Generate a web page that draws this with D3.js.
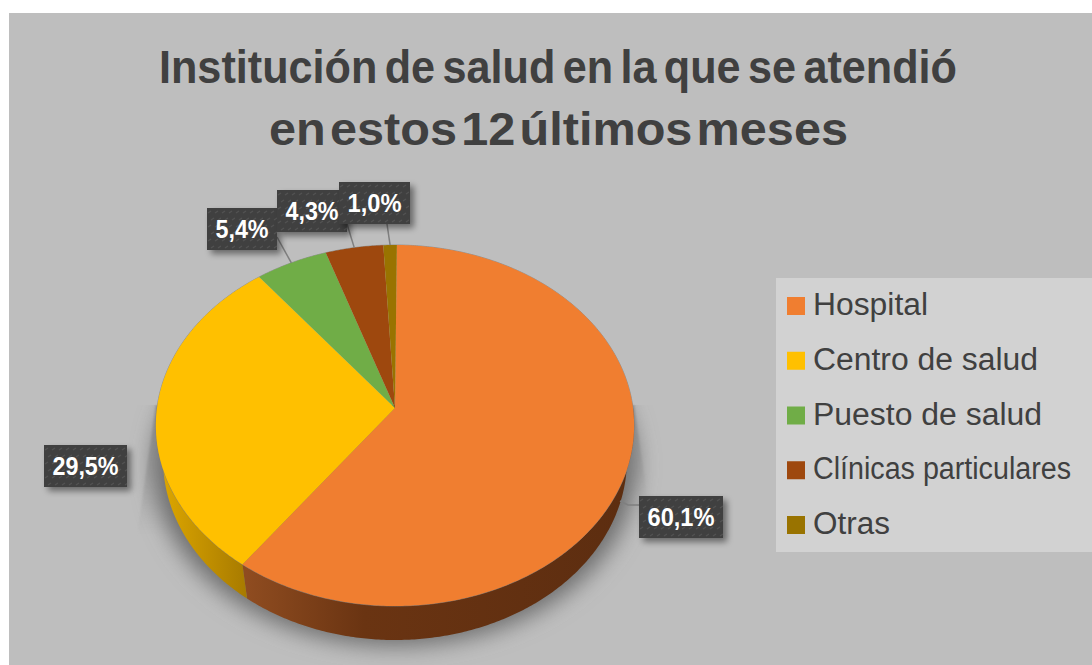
<!DOCTYPE html>
<html>
<head>
<meta charset="utf-8">
<script src="https://cdn.jsdelivr.net/npm/d3@7"></script>
<style>
  html, body { margin: 0; padding: 0; background: #fff; }
  text { font-family: "Liberation Sans", Arial, sans-serif; }
</style>
</head>
<body>
<div id="chart"></div>
<script>
let categories = ["Hospital", "Centro de salud", "Puesto de salud", "Clínicas particulares", "Otras"];
let values = [60.1, 29.5, 5.4, 4.3, 1.0];
let colors = ["#f07e30", "#ffc000", "#70ad47", "#9e480e", "#997300"];
let titleLines = ["Institución de salud en la que se atendió", "en estos 12 últimos meses"];

let width = 1092, height = 665;
let cx = 395, cy = 408, R = 238, k = 178.8, p = 0.097, depth = 34;

let svg = d3.select("#chart").append("svg")
  .attr("width", width)
  .attr("height", height)
  .style("display", "block");

let defs = svg.append("defs");

// perspective projection of the tilted disc, angle is clockwise from the top
function rim(a, scale = 1, dy = 0) {
  let u = Math.sin(a), v = Math.cos(a), w = 1 + p * v;
  return [cx + scale * R * u / w, cy + dy - k * v / w];
}

function arcPoints(a0, a1, scale, dy) {
  let n = Math.max(2, Math.ceil(Math.abs(a1 - a0) / 0.01));
  return d3.range(n + 1).map(i => rim(a0 + (a1 - a0) * i / n, scale, dy));
}

let line = d3.line();

let pie = d3.pie().sort(null)
  .startAngle(0.5 * Math.PI / 180)
  .endAngle(2 * Math.PI + 0.5 * Math.PI / 180);
let slices = pie(values);

// filters
let blur = defs.append("filter").attr("id", "soft")
  .attr("x", "-20%").attr("y", "-20%").attr("width", "140%").attr("height", "140%");
blur.append("feGaussianBlur").attr("stdDeviation", 11);

let wedgeBlur = defs.append("filter").attr("id", "soft2")
  .attr("x", "-50%").attr("y", "-20%").attr("width", "200%").attr("height", "140%");
wedgeBlur.append("feGaussianBlur").attr("stdDeviation", 0.8);

let boxShadow = defs.append("filter").attr("id", "boxShadow")
  .attr("x", "-20%").attr("y", "-30%").attr("width", "150%").attr("height", "170%");
boxShadow.append("feDropShadow")
  .attr("dx", 4).attr("dy", 4).attr("stdDeviation", 3)
  .attr("flood-color", "#000").attr("flood-opacity", 0.45);

let pattern = defs.append("pattern").attr("id", "weave")
  .attr("width", 14).attr("height", 14)
  .attr("patternUnits", "userSpaceOnUse");
pattern.append("rect").attr("width", 14).attr("height", 14).attr("fill", "#404040");
[[1, 5], [8, 5], [4, 12], [11, 12]].forEach(d => {
  pattern.append("path")
    .attr("d", `M${d[0]},${d[1]}l3,-2`)
    .attr("stroke", "#525252").attr("stroke-width", 1.2);
});

function wallGradient(id, x1, x2, stops) {
  let g = defs.append("linearGradient").attr("id", id)
    .attr("gradientUnits", "userSpaceOnUse")
    .attr("x1", x1).attr("x2", x2).attr("y1", 0).attr("y2", 0);
  stops.forEach(s => g.append("stop").attr("offset", s[0]).attr("stop-color", s[1]));
}
wallGradient("wall0", 246, 640, [[0, "#8f4c20"], [0.3, "#6a3412"], [1, "#5c2d10"]]);
wallGradient("wall1", 158, 246, [[0, "#dfa800"], [1, "#a87b00"]]);

let fadeL = defs.append("linearGradient").attr("id", "wedgeFade")
  .attr("x1", 0).attr("x2", 0).attr("y1", 0).attr("y2", 1);
fadeL.append("stop").attr("offset", 0).attr("stop-color", "#949494");
fadeL.append("stop").attr("offset", 1).attr("stop-color", "#bebebe");

// background
svg.append("rect").attr("x", 9).attr("y", 13)
  .attr("width", width - 9).attr("height", height - 13)
  .attr("fill", "#bebebe");

// title, the second line is set a little wider than the first
let titleWidths = [798, 579];
svg.append("g").selectAll("text")
  .data(titleLines)
  .join("text")
  .attr("x", (d, i) => i ? 269 : 159)
  .attr("y", (d, i) => 83 + i * 62)
  .attr("font-size", 47)
  .attr("font-weight", "bold")
  .attr("word-spacing", (d, i) => i ? -9 : -5)
  .attr("textLength", (d, i) => titleWidths[i])
  .attr("lengthAdjust", "spacingAndGlyphs")
  .attr("fill", "#404040")
  .text(d => d);

// legend
svg.append("rect").attr("x", 776).attr("y", 278)
  .attr("width", 316).attr("height", 274)
  .attr("fill", "#d2d2d2");

let legendY = d3.scalePoint().domain(categories).range([306, 525]);
let legendWidths = [115, 225, 229, 258, 77];

let legend = svg.append("g").selectAll("g")
  .data(categories)
  .join("g")
  .attr("transform", d => `translate(787,${legendY(d)})`);

legend.append("rect")
  .attr("y", -9).attr("width", 18).attr("height", 18)
  .attr("fill", (d, i) => colors[i]);

legend.append("text")
  .attr("x", 26).attr("y", 9)
  .attr("font-size", 31)
  .attr("textLength", (d, i) => legendWidths[i])
  .attr("lengthAdjust", "spacingAndGlyphs")
  .attr("fill", "#404040")
  .text(d => d);

// shadow under the pie, the wedges go first so the soft part sits on top of them
[[[156, 405], [137, 535], [230, 535], [230, 405]],
 [[634, 405], [647, 496], [560, 496], [560, 405]]].forEach(d => {
  svg.append("path")
    .attr("d", line(d) + "Z")
    .attr("fill", "url(#wedgeFade)")
    .attr("filter", "url(#soft2)");
});

let clip = defs.append("clipPath").attr("id", "belowTop");
clip.append("rect").attr("x", 0).attr("y", 405).attr("width", width).attr("height", 260);

let shadowG = svg.append("g").attr("clip-path", "url(#belowTop)");

shadowG.append("path")
  .attr("d", line(arcPoints(0, 2 * Math.PI, 1.01, 40)) + "Z")
  .attr("fill", "#6e6e6e")
  .attr("filter", "url(#soft)");

// side wall, only the front half is visible
let wallParts = slices.map((s, i) => ({
  start: Math.max(s.startAngle, Math.PI / 2),
  end: Math.min(s.endAngle, 3 * Math.PI / 2),
  i: i
})).filter(d => d.end > d.start);

svg.append("g").selectAll("path")
  .data(wallParts)
  .join("path")
  .attr("d", d => line(arcPoints(d.start, d.end, 1, 0)
    .concat(arcPoints(d.end, d.start, 0.97, depth))) + "Z")
  .attr("fill", d => `url(#wall${d.i})`);

// top face
svg.append("path")
  .attr("d", line(arcPoints(0, 2 * Math.PI, 1, 0)) + "Z")
  .attr("fill", "none")
  .attr("stroke", "#7f7f7f")
  .attr("stroke-opacity", 0.7)
  .attr("stroke-width", 1);

svg.append("g").selectAll("path")
  .data(slices)
  .join("path")
  .attr("d", d => line([[cx, cy]].concat(arcPoints(d.startAngle, d.endAngle, 1, 0))) + "Z")
  .attr("fill", (d, i) => colors[i]);

// data labels: box corner x, y and where the leader bends
let labelBoxes = [
  { x: 639, y: 496, w: 84, bend: [628, 505], end: [639, 505] },
  { x: 44, y: 445, w: 83 },
  { x: 207, y: 208, w: 70, end: [277, 237] },
  { x: 277, y: 190, w: 70, end: [347, 224] },
  { x: 339, y: 182, w: 71, end: [387, 224] }
];

let leaders = svg.append("g");
slices.forEach((s, i) => {
  let b = labelBoxes[i];
  if (!b.end) return;
  let mid = (s.startAngle + s.endAngle) / 2;
  let pts = [rim(mid)];
  if (i === 0) pts = [[620, 501]];
  if (b.bend) pts.push(b.bend);
  pts.push(b.end);
  leaders.append("path")
    .attr("d", line(pts))
    .attr("fill", "none")
    .attr("stroke", "#7f7f7f")
    .attr("stroke-width", 1.5);
});

let labels = svg.append("g").selectAll("g")
  .data(slices)
  .join("g")
  .attr("transform", (d, i) => `translate(${labelBoxes[i].x},${labelBoxes[i].y})`);

labels.append("rect")
  .attr("width", (d, i) => labelBoxes[i].w)
  .attr("height", 42)
  .attr("fill", "url(#weave)")
  .attr("filter", "url(#boxShadow)");

labels.append("text")
  .attr("x", (d, i) => labelBoxes[i].w / 2)
  .attr("y", 30)
  .attr("text-anchor", "middle")
  .attr("font-size", 25.5)
  .attr("font-weight", "bold")
  .attr("textLength", (d, i) => labelBoxes[i].w - 17)
  .attr("lengthAdjust", "spacingAndGlyphs")
  .attr("fill", "#fff")
  .text(d => d.value.toFixed(1).replace(".", ",") + "%");
</script>
</body>
</html>
